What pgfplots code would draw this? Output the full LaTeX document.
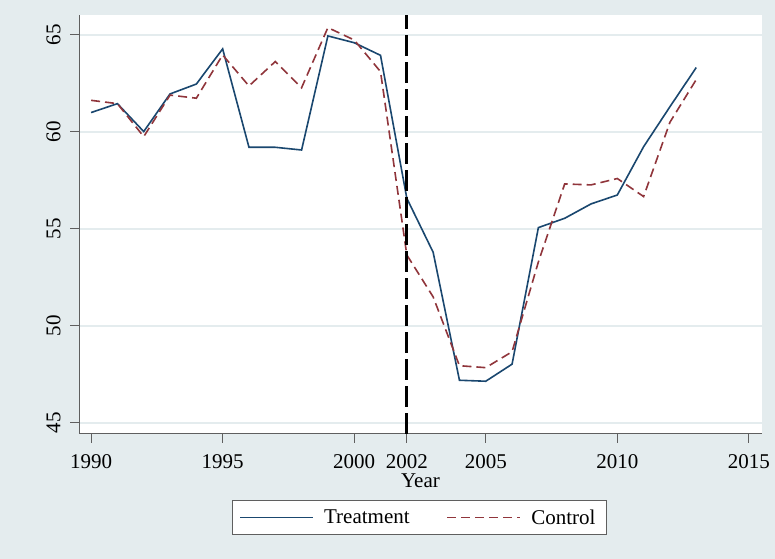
\documentclass[border=0pt]{standalone}
\usepackage{pgfplots}
\pgfplotsset{compat=1.18}
\usepackage{fontspec}
\setmainfont{Liberation Serif}
\definecolor{bgc}{RGB}{228,236,238}
\definecolor{gridc}{RGB}{228,236,238}
\definecolor{navyc}{RGB}{26,71,111}
\definecolor{maroonc}{RGB}{144,53,59}
\definecolor{axc}{RGB}{95,95,95}
\begin{document}
\begin{tikzpicture}[x=1bp,y=1bp]
\fill[bgc] (0,0) rectangle (775,559);
\useasboundingbox (0,0) rectangle (775,559);
\begin{axis}[
  at={(79bp,125bp)}, anchor=south west,
  scale only axis, width=683bp, height=419bp,
  xmin=1989.54, xmax=2015.5, ymin=44.43, ymax=66.03,
  axis background/.style={fill=white},
  axis x line*=bottom, axis y line*=left,
  axis line style={axc, line width=1bp},
  every tick/.style={axc, line width=1bp},
  tick align=outside, major tick length=9bp,
  xtick={1990,1995,2000,2002,2005,2010,2015},
  ytick={45,50,55,60,65},
  /pgf/number format/1000 sep={},
  /pgf/number format/assume math mode=true,
  ticklabel style={font=\fontsize{21bp}{25bp}\selectfont, text=black},
  xticklabel shift=8bp, yticklabel shift=6bp,
  yticklabel style={rotate=90, anchor=south},
  ymajorgrids, grid style={gridc, line width=2bp},
  xlabel={Year}, xlabel style={font=\fontsize{21bp}{25bp}\selectfont, yshift=0bp, inner ysep=2bp},
  legend columns=2,
  legend style={at={(0.4985,-0.1993)}, anchor=center, draw=axc, line width=1bp, fill=white,
    font=\fontsize{21bp}{25bp}\selectfont, inner xsep=7.5bp, inner ysep=6.5bp,
    nodes={inner ysep=2.5bp, inner xsep=4bp},
    /tikz/every odd column/.append style={column sep=6bp},
    /tikz/every even column/.append style={column sep=33bp}},
  legend image code/.code={\draw[#1] (0bp,0bp) -- (73bp,0bp);},
]
\addplot[navyc, line width=1.6bp] coordinates {
(1990,61.0) (1991,61.46) (1992,60.02) (1993,61.96) (1994,62.47) (1995,64.28)
(1996,59.21) (1997,59.21) (1998,59.07) (1999,64.95) (2000,64.6) (2001,63.95)
(2002,56.58) (2003,53.8) (2004,47.2) (2005,47.15) (2006,48.03) (2007,55.07)
(2008,55.55) (2009,56.29) (2010,56.75) (2011,59.24) (2012,61.3) (2013,63.32)
};
\addlegendentry{Treatment}
\addplot[maroonc, line width=1.6bp, dash pattern=on 9bp off 5bp] coordinates {
(1990,61.63) (1991,61.46) (1992,59.76) (1993,61.9) (1994,61.74) (1995,63.97)
(1996,62.37) (1997,63.63) (1998,62.28) (1999,65.38) (2000,64.74) (2001,63.11)
(2002,53.66) (2003,51.5) (2004,47.95) (2005,47.85) (2006,48.67) (2007,53.3)
(2008,57.32) (2009,57.27) (2010,57.6) (2011,56.67) (2012,60.5) (2013,62.7)
};
\addlegendentry{Control}
\addplot[black, line width=3.2bp, dash pattern=on 21bp off 6bp, forget plot] coordinates {(2002,44.43) (2002,66.03)};
\end{axis}
\end{tikzpicture}
\end{document}
